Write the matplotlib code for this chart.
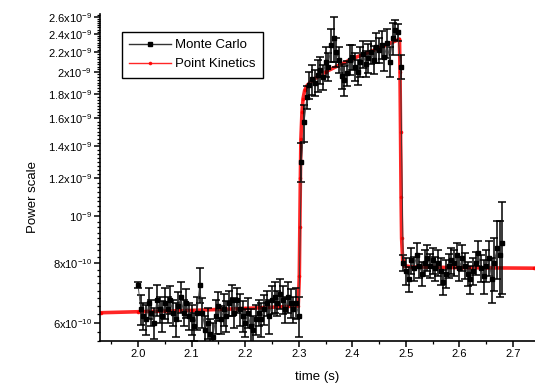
import numpy as np
import matplotlib
matplotlib.use("Agg")
import matplotlib.pyplot as plt
from matplotlib.ticker import FixedLocator, NullFormatter

plt.rcParams['font.family'] = ['Liberation Sans', 'DejaVu Sans']
plt.rcParams['mathtext.fontset'] = 'custom'
plt.rcParams['mathtext.rm'] = 'Liberation Sans'
plt.rcParams['mathtext.it'] = 'Liberation Sans'
plt.rcParams['mathtext.default'] = 'regular'

# ---- Monte Carlo (times in s, power in units of 1e-9) ----
mc_t = [round(2.0 + 0.005 * i, 3) for i in range(137)]

mc_low = [0.72, 0.64, 0.62, 0.61, 0.66, 0.63, 0.60, 0.67, 0.64, 0.62,
          0.66, 0.64, 0.67, 0.63, 0.61, 0.65, 0.68, 0.63, 0.66, 0.62,
          0.61, 0.59, 0.63, 0.72, 0.63, 0.58, 0.60, 0.57, 0.56, 0.62,
          0.65, 0.61, 0.64, 0.62, 0.66, 0.67, 0.63, 0.67, 0.64, 0.62,
          0.60, 0.63, 0.59, 0.58, 0.61, 0.63, 0.61, 0.64, 0.66, 0.62,
          0.67, 0.68, 0.66, 0.69, 0.67, 0.64, 0.68, 0.66, 0.64, 0.66,
          0.62]
mc_high = [1.30, 1.57, 1.77, 1.88, 1.93, 1.90, 1.97, 2.02, 1.95, 2.10,
           2.05, 2.28, 2.35, 2.20, 2.12, 1.96, 1.92, 1.99, 2.12, 2.15,
           2.05, 2.00, 2.10, 2.18, 2.08, 2.14, 2.20, 2.12, 2.25, 2.22,
           2.28, 2.15, 2.30, 2.10, 2.35, 2.45, 2.42, 2.05]
mc_after = [0.80, 0.77, 0.74, 0.81, 0.78, 0.83, 0.79, 0.76, 0.80, 0.82,
            0.79, 0.81, 0.78, 0.80, 0.77, 0.73, 0.76, 0.79, 0.81, 0.80,
            0.83, 0.78, 0.82, 0.79, 0.76, 0.74, 0.77, 0.80, 0.84, 0.78,
            0.75, 0.79, 0.82, 0.74, 0.80, 0.86, 0.83, 0.88]
mc_p = mc_low + mc_high + mc_after

err_low = [0.01, 0.045, 0.04, 0.045, 0.05, 0.04, 0.045, 0.05, 0.04, 0.045,
           0.05, 0.04, 0.045, 0.04, 0.05, 0.045, 0.05, 0.04, 0.045, 0.04,
           0.045, 0.04, 0.05, 0.06, 0.045, 0.04, 0.045, 0.04, 0.04, 0.05,
           0.045, 0.04, 0.05, 0.045, 0.04, 0.05, 0.045, 0.04, 0.05, 0.045,
           0.04, 0.045, 0.05, 0.04, 0.045, 0.04, 0.05, 0.045, 0.04, 0.05,
           0.045, 0.05, 0.04, 0.05, 0.045, 0.04, 0.05, 0.045, 0.04, 0.05,
           0.06]
err_high = [0.12, 0.14, 0.10, 0.12, 0.14, 0.12, 0.15, 0.13, 0.12, 0.15,
            0.14, 0.18, 0.25, 0.15, 0.13, 0.12, 0.14, 0.12, 0.15, 0.13,
            0.14, 0.12, 0.15, 0.14, 0.13, 0.15, 0.12, 0.14, 0.16, 0.13,
            0.15, 0.14, 0.16, 0.15, 0.18, 0.12, 0.10, 0.12]
err_after = [0.03, 0.05, 0.045, 0.05, 0.045, 0.05, 0.045, 0.045, 0.05, 0.05,
             0.045, 0.05, 0.045, 0.05, 0.05, 0.045, 0.05, 0.045, 0.05, 0.05,
             0.05, 0.045, 0.05, 0.05, 0.045, 0.05, 0.05, 0.045, 0.05, 0.05,
             0.06, 0.06, 0.07, 0.08, 0.10, 0.12, 0.15, 0.19]
mc_err = err_low + err_high + err_after

# ---- Point kinetics (red curve) ----
pk_t = [1.93, 2.00, 2.10, 2.20, 2.29, 2.299, 2.301, 2.302, 2.303, 2.304,
        2.306, 2.308, 2.311, 2.315, 2.325, 2.35, 2.40, 2.45, 2.488, 2.489,
        2.490, 2.491, 2.492, 2.494, 2.497, 2.51, 2.60, 2.74]
pk_p = [0.630, 0.633, 0.637, 0.643, 0.650, 0.652, 0.75, 0.95, 1.20, 1.45,
        1.65, 1.76, 1.83, 1.87, 1.92, 2.00, 2.13, 2.24, 2.34, 2.0,
        1.5, 1.1, 0.9, 0.81, 0.79, 0.785, 0.782, 0.780]

ytick_vals = [0.6, 0.8, 1.0, 1.2, 1.4, 1.6, 1.8, 2.0, 2.2, 2.4, 2.6]
ytick_labels = ["6x10$^{-10}$", "8x10$^{-10}$", "10$^{-9}$", "1.2x10$^{-9}$",
                "1.4x10$^{-9}$", "1.6x10$^{-9}$", "1.8x10$^{-9}$", "2x10$^{-9}$",
                "2.2x10$^{-9}$", "2.4x10$^{-9}$", "2.6x10$^{-9}$"]
xtick_vals = [2.0, 2.1, 2.2, 2.3, 2.4, 2.5, 2.6, 2.7]

scale = 1e-9

fig = plt.figure(figsize=(5.35, 3.88), dpi=100)
ax = fig.add_axes([0.187, 0.121, 0.813, 0.843])

t = np.array(mc_t)
p = np.array(mc_p) * scale
e = np.array(mc_err) * scale

ax.plot(np.array(pk_t), np.array(pk_p) * scale, color="red", lw=2.6,
        alpha=0.85, marker="o", ms=1.6, zorder=2, label="Point Kinetics")
ax.errorbar(t, p, yerr=e, fmt="none", ecolor="black", elinewidth=1.1,
            capsize=3.2, capthick=1.1, zorder=3)
ax.plot(t, p, color="#333333", lw=0.6, marker="s", ms=2.6, mfc="black",
        mec="black", zorder=4, label="Monte Carlo")

ax.set_yscale("log")
ax.set_xlim(1.929, 2.741)
ax.set_ylim(0.55 * scale, 2.64 * scale)

ax.yaxis.set_major_locator(FixedLocator([v * scale for v in ytick_vals]))
ax.set_yticklabels(ytick_labels)
minor_y = [round(0.55 + 0.025 * i, 3) * scale for i in range(85)]
ax.yaxis.set_minor_locator(FixedLocator(minor_y))
ax.yaxis.set_minor_formatter(NullFormatter())

ax.set_xticks(xtick_vals)
ax.set_xticklabels(["%.1f" % v for v in xtick_vals])
ax.set_xticks([1.95 + 0.1 * i for i in range(8)], minor=True)

for s in ["top", "right"]:
    ax.spines[s].set_visible(False)
for s in ["left", "bottom"]:
    ax.spines[s].set_linewidth(1.2)

ax.tick_params(axis="both", which="major", direction="out", length=4,
               width=1.1, labelsize=8, pad=2)
ax.tick_params(axis="both", which="minor", direction="out", length=2.2,
               width=0.9)

ax.set_xlabel("time (s)", fontsize=9.5)
ax.xaxis.set_label_coords(0.5, -0.093)
ax.set_ylabel("Power scale", fontsize=9.5)
ax.yaxis.set_label_coords(-0.14, 0.44)

handles, labels = ax.get_legend_handles_labels()
leg = ax.legend(handles[::-1], labels[::-1], loc="upper left",
                bbox_to_anchor=(0.05, 0.945), fontsize=9.5, frameon=True,
                fancybox=False, edgecolor="black", framealpha=1,
                handlelength=3.2, handletextpad=0.3, borderpad=0.55,
                labelspacing=0.5, borderaxespad=0)
leg.get_frame().set_linewidth(1.0)
for h in leg.get_lines():
    h.set_linewidth(1.0)

fig.savefig("out.png", dpi=100)
